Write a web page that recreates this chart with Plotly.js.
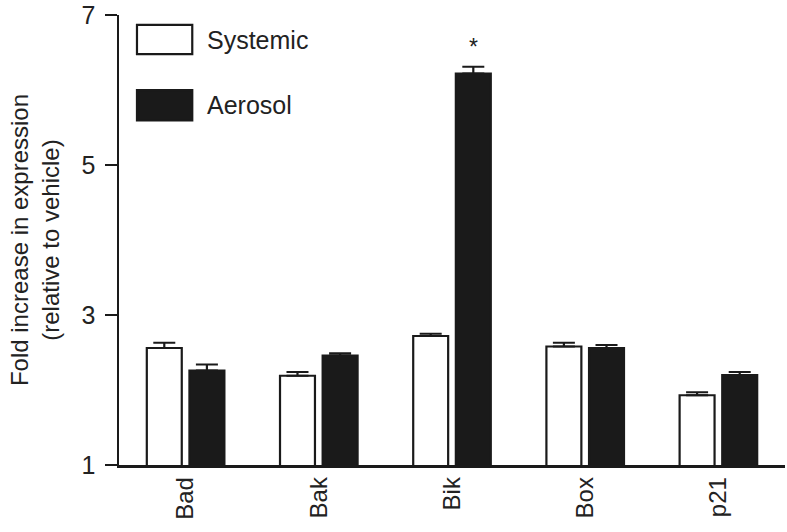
<!DOCTYPE html>
<html>
<head>
<meta charset="utf-8">
<script src="https://cdn.plot.ly/plotly-3.0.1.min.js"></script>
<style>
  html, body { margin: 0; padding: 0; background: #fff; }
  #chart { width: 787px; height: 532px; }
</style>
</head>
<body>
<div id="chart"></div>
<script>
// values
var genes = ['Bad', 'Bak', 'Bik', 'Box', 'p21'];
var systemic = [2.56, 2.19, 2.72, 2.58, 1.93];
var systemicErr = [0.07, 0.05, 0.03, 0.05, 0.04];
var aerosol = [2.26, 2.46, 6.22, 2.56, 2.20];
var aerosolErr = [0.08, 0.03, 0.09, 0.04, 0.04];
var yTicks = [1, 3, 5, 7];

var font = 'Liberation Sans, Arial, Helvetica, sans-serif';
var ink = '#1a1a1a';

function zeros(n) {
  var a = [];
  for (var i = 0; i < n; i++) a.push(0);
  return a;
}

var sysTrace = {
  x: genes,
  y: systemic,
  type: 'bar',
  name: 'Systemic',
  marker: { color: '#ffffff', line: { color: ink, width: 2.2 } },
  error_y: { type: 'data', symmetric: false, array: systemicErr, arrayminus: zeros(genes.length),
             color: ink, thickness: 2.2, width: 11 }
};
var aerTrace = {
  x: genes,
  y: aerosol,
  type: 'bar',
  name: 'Aerosol',
  marker: { color: ink, line: { color: ink, width: 2.2 } },
  error_y: { type: 'data', symmetric: false, array: aerosolErr, arrayminus: zeros(genes.length),
             color: ink, thickness: 2.2, width: 11 }
};

// legend drawn by hand so the swatches can be large like the original
var shapes = [
  { type: 'rect', xref: 'paper', yref: 'paper', x0: 0.027, x1: 0.11, y0: 0.913, y1: 0.978,
    fillcolor: '#ffffff', line: { color: ink, width: 2.2 } },
  { type: 'rect', xref: 'paper', yref: 'paper', x0: 0.027, x1: 0.11, y0: 0.766, y1: 0.833,
    fillcolor: ink, line: { color: ink, width: 2.2 } }
];

var annotations = [
  { xref: 'paper', yref: 'paper', x: 0.129, y: 0.945, xanchor: 'left', yanchor: 'middle',
    text: sysTrace.name, showarrow: false, font: { family: font, size: 25, color: '#222' } },
  { xref: 'paper', yref: 'paper', x: 0.129, y: 0.8, xanchor: 'left', yanchor: 'middle',
    text: aerTrace.name, showarrow: false, font: { family: font, size: 25, color: '#222' } },
  // significance mark over Bik aerosol
  { x: genes[2], y: aerosol[2] + aerosolErr[2], xshift: 21, yshift: 5, yanchor: 'bottom',
    text: '*', showarrow: false, font: { family: font, size: 23, color: '#222' } },
  // y axis title
  { xref: 'paper', yref: 'paper', x: -0.126, y: 0.5, xanchor: 'center', yanchor: 'middle',
    textangle: -90, showarrow: false,
    text: 'Fold increase in expression<br>(relative to vehicle)',
    font: { family: font, size: 24, color: '#222' } }
];

var layout = {
  width: 787,
  height: 532,
  margin: { l: 119, r: 2, t: 15, b: 67 },
  paper_bgcolor: '#ffffff',
  plot_bgcolor: '#ffffff',
  showlegend: false,
  barmode: 'group',
  bargap: 0.36,
  bargroupgap: 0.18,
  font: { family: font, color: '#222' },
  xaxis: {
    type: 'category',
    range: [-0.5, 4.5],
    showline: true,
    linecolor: ink,
    linewidth: 2.5,
    ticks: '',
    tickangle: -90,
    tickfont: { family: font, size: 24, color: '#222' },
    showgrid: false,
    zeroline: false
  },
  yaxis: {
    range: [1, 7],
    tickvals: yTicks,
    ticktext: yTicks.map(String),
    showline: true,
    linecolor: ink,
    linewidth: 2.5,
    ticks: 'outside',
    ticklen: 12,
    tickwidth: 2.5,
    tickcolor: ink,
    ticklabelstandoff: 4,
    tickfont: { family: font, size: 25, color: '#222' },
    showgrid: false,
    zeroline: false
  },
  shapes: shapes,
  annotations: annotations
};

Plotly.newPlot('chart', [sysTrace, aerTrace], layout, { displayModeBar: false, staticPlot: true });
</script>
</body>
</html>
